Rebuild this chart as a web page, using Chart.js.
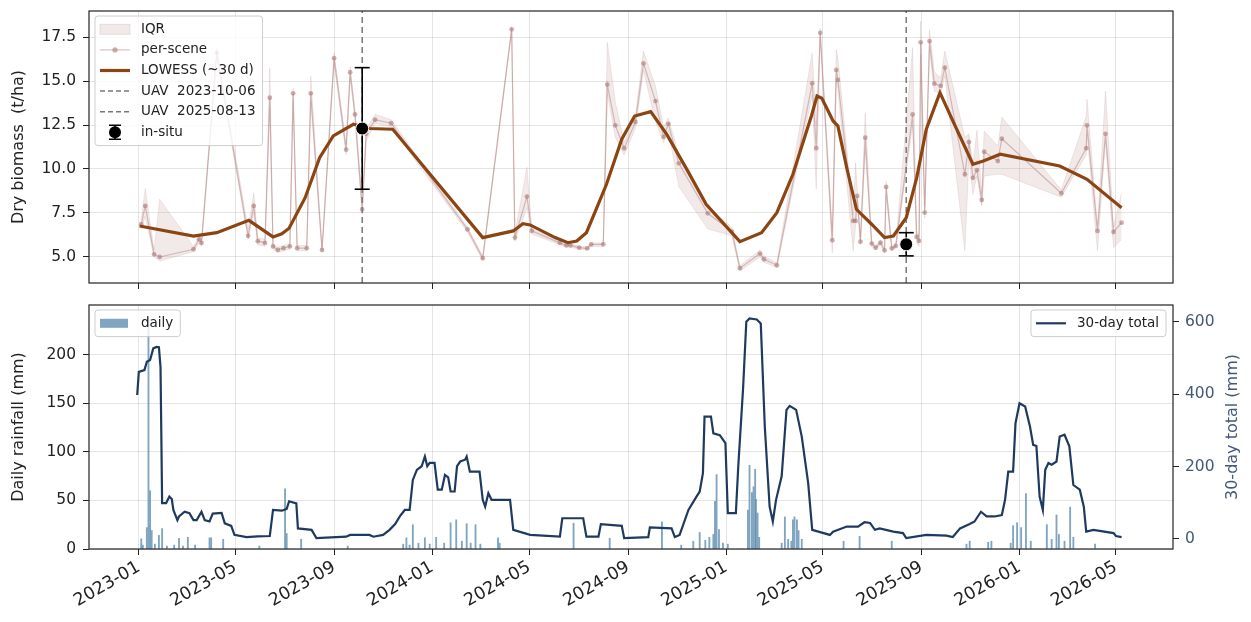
<!DOCTYPE html>
<html>
<head>
<meta charset="utf-8">
<title>Biomass and rainfall</title>
<script src="https://cdn.jsdelivr.net/npm/chart.js@4.4.1/dist/chart.umd.min.js"></script>
<style>
    html, body { margin: 0; padding: 0; background: #fff; }
    #wrap { position: relative; width: 1251px; height: 622px; }
    .panel { position: absolute; left: 0; width: 1251px; }
    #topPanel { top: 0; height: 295px; }
    #bottomPanel { top: 295px; height: 327px; }
</style>
</head>
<body>
<div id="wrap">
    <div class="panel" id="topPanel"><canvas id="biomassChart" width="1251" height="295"></canvas></div>
    <div class="panel" id="bottomPanel"><canvas id="rainChart" width="1251" height="327"></canvas></div>
</div>
<script>
// all days are counted from 2023-01-01
const tickLabels = ['2023-01', '2023-05', '2023-09', '2024-01', '2024-05', '2024-09',
    '2025-01', '2025-05', '2025-09', '2026-01', '2026-05'];
const uavDates = ['2023-10-06', '2025-08-13'];

// per-scene median biomass (t/ha) and its IQR
const sceneDays = [3, 8, 19, 26, 68, 75, 78, 97, 136, 143, 148, 157, 163, 167, 173, 180, 188, 192, 197, 209,
    214, 228, 243, 258, 263, 269, 278, 283, 294, 314, 409, 428, 464, 468, 483, 489, 524, 532, 537, 548,
    558, 563, 578, 583, 593, 604, 618, 628, 643, 653, 659, 672, 708, 738, 748, 773, 778, 794, 838, 843,
    848, 863, 868, 870, 889, 892, 894, 898, 904, 912, 917, 923, 928, 930, 937, 942, 963, 968, 971, 973,
    978, 984, 990, 998, 1003, 1028, 1033, 1038, 1043, 1049, 1052, 1069, 1074, 1148, 1179, 1180, 1193, 1203, 1213, 1223];
const sceneMedian = [6.86, 7.9, 5.15, 5.0, 5.44, 6.0, 5.8, 16.6, 6.2, 7.9, 5.9, 5.8, 14.05, 5.6, 5.4, 5.5, 5.6, 14.3, 5.5, 5.5,
    14.3, 5.4, 16.3, 11.1, 15.5, 13.1, 7.7, 12.0, 12.8, 12.6, 6.57, 4.93, 17.94, 6.1, 8.43, 6.48, 5.8, 5.66, 5.66, 5.53,
    5.49, 5.72, 5.72, 14.8, 12.48, 11.18, 12.67, 16.0, 13.86, 11.82, 12.57, 10.32, 7.48, 6.44, 4.36, 5.19, 4.87, 4.53, 14.87, 11.18,
    17.74, 5.95, 15.63, 15.06, 7.05, 7.05, 8.47, 5.87, 11.78, 5.76, 5.53, 5.81, 5.38, 8.98, 5.49, 5.63, 13.1, 6.14, 5.91, 17.2,
    7.52, 17.27, 14.85, 14.72, 15.76, 9.7, 11.53, 9.5, 9.93, 8.24, 10.98, 10.45, 11.72, 8.62, 11.18, 12.48, 6.48, 12.0, 6.42, 6.95];
const iqrLow = [6.6, 7.3, 5.0, 4.77, 5.3, 5.8, 5.6, 16.3, 6.0, 7.5, 5.7, 5.6, 13.5, 5.45, 5.25, 5.35, 5.45, 13.9, 5.35, 5.35,
    13.8, 5.25, 16.0, 10.8, 15.2, 12.8, 7.4, 11.6, 12.6, 12.4, 6.4, 4.8, 17.8, 5.9, 7.8, 6.3, 5.7, 5.55, 5.55, 5.45,
    5.4, 5.6, 5.6, 14.3, 11.8, 10.8, 12.3, 15.6, 12.7, 11.5, 12.2, 9.0, 6.6, 6.2, 4.2, 5.0, 4.7, 4.4, 14.2, 8.86,
    17.5, 5.24, 15.0, 14.5, 5.34, 6.8, 8.0, 5.7, 11.0, 5.6, 5.4, 5.7, 5.25, 8.5, 5.35, 5.5, 12.5, 5.8, 5.6, 16.5,
    7.2, 16.8, 14.4, 14.3, 15.3, 5.34, 10.6, 8.56, 9.6, 7.9, 9.6, 9.7, 9.7, 8.4, 10.8, 12.0, 5.34, 11.6, 5.53, 6.0];
const iqrHigh = [7.1, 8.9, 5.4, 8.28, 5.6, 6.2, 6.0, 16.9, 6.6, 8.65, 6.1, 6.0, 15.76, 5.75, 5.55, 5.65, 5.75, 14.6, 5.65, 5.65,
    15.3, 5.55, 16.6, 11.4, 15.8, 13.4, 8.2, 12.3, 13.1, 12.8, 6.7, 5.05, 18.1, 6.3, 10.1, 6.6, 5.9, 5.75, 5.75, 5.6,
    5.6, 5.8, 5.8, 17.2, 13.8, 11.5, 13.0, 16.7, 14.7, 12.4, 12.9, 10.8, 7.8, 6.7, 4.5, 5.4, 5.05, 4.65, 16.6, 12.5,
    18.0, 6.5, 16.8, 16.3, 7.4, 10.36, 8.8, 6.1, 13.2, 5.9, 5.65, 5.95, 5.5, 9.3, 5.6, 5.75, 16.9, 6.5, 6.2, 18.4,
    7.9, 17.9, 15.5, 15.2, 16.7, 11.8, 12.0, 10.2, 12.2, 8.6, 12.16, 11.3, 12.95, 8.8, 13.0, 13.96, 6.8, 14.43, 6.7, 8.65];

// LOWESS smooth (~30 d)
const lowessDays = [1, 68, 97, 137, 167, 178, 187, 207, 225, 242, 267, 287, 316, 428, 466, 478, 487, 518, 534, 545,
    557, 570, 582, 601, 617, 637, 657, 682, 706, 748, 775, 794, 814, 837, 844, 850, 864, 870, 881, 893,
    912, 928, 939, 955, 968, 980, 997, 1013, 1038, 1051, 1072, 1146, 1180, 1223];
const lowessValues = [6.76, 6.19, 6.38, 7.08, 6.14, 6.32, 6.63, 8.37, 10.64, 11.88, 12.54, 12.3, 12.26, 6.1, 6.48, 6.89, 6.82, 6.1, 5.81, 5.91,
    6.38, 7.8, 9.13, 11.69, 13.01, 13.26, 11.97, 9.98, 7.99, 5.87, 6.38, 7.52, 9.7, 13.01, 14.15, 14.02, 12.73, 12.44, 10.07, 7.71,
    6.86, 6.1, 6.19, 7.23, 9.5, 12.26, 14.34, 12.73, 10.27, 10.45, 10.84, 10.17, 9.41, 7.8];

// in-situ biomass with error bars
const insituDates = ['2023-10-06', '2025-08-13'];
const insituMean = [12.3, 5.72];
const insituLow = [8.85, 5.06];
const insituHigh = [15.76, 6.38];

// daily rainfall (mm), only the wet days
const rainDays = [3, 5, 10, 12, 14, 16, 20, 25, 29, 35, 44, 50, 55, 61, 70, 88, 90, 105, 150, 182,
    184, 202, 260, 329, 333, 337, 341, 348, 356, 362, 370, 380, 388, 395, 402, 408, 413, 419, 425, 447,
    449, 541, 586, 651, 675, 690, 698, 705, 710, 715, 717, 719, 722, 727, 733, 758, 760, 763, 765, 767,
    768, 770, 772, 800, 804, 808, 812, 814, 816, 819, 821, 825, 877, 897, 937, 1030, 1034, 1057, 1061, 1085,
    1088, 1093, 1098, 1104, 1110, 1130, 1136, 1142, 1145, 1152, 1159, 1163, 1190];
const rainDaily = [10.5, 4, 22, 238, 60, 19, 5, 14, 21, 3, 4, 11, 3, 12, 4, 11.5, 11.5, 10, 3, 62,
    16, 10, 3, 5, 11.5, 4, 25, 6, 11.5, 5, 12, 6, 27, 30, 8, 26, 6, 25, 5, 11.5,
    6, 26.5, 11, 28, 4, 8, 17, 9, 12, 15, 49, 76.5, 20, 6, 5, 40, 86, 58, 64, 82,
    51, 37, 12, 6, 33, 10, 8, 30, 33, 30, 19, 10, 8, 13, 8, 5, 8, 7, 8, 6,
    24, 27, 22, 57, 8, 25, 10, 35, 15, 8, 43, 12, 5];

// 30-day rolling total (mm)
const totalDays = [-2, 0, 7, 10, 14, 18, 22, 25, 27, 29, 34, 38, 41, 43, 48, 50, 57, 63, 68, 72,
    78, 82, 88, 92, 103, 107, 115, 119, 134, 148, 163, 167, 178, 184, 187, 196, 198, 215, 221, 258,
    263, 287, 292, 304, 312, 319, 325, 331, 337, 341, 346, 352, 356, 359, 362, 368, 372, 377, 381, 385,
    388, 393, 396, 400, 406, 408, 412, 424, 428, 431, 435, 439, 462, 466, 487, 524, 527, 553, 557, 572,
    575, 601, 604, 634, 636, 663, 667, 673, 684, 694, 698, 702, 704, 712, 715, 723, 730, 733, 743, 746,
    752, 756, 760, 769, 774, 779, 785, 789, 793, 800, 806, 810, 818, 825, 833, 838, 860, 864, 881, 895,
    903, 910, 916, 922, 939, 951, 955, 980, 1005, 1013, 1022, 1034, 1040, 1048, 1055, 1065, 1074, 1078, 1082, 1088,
    1091, 1096, 1103, 1109, 1113, 1117, 1121, 1125, 1128, 1132, 1136, 1142, 1146, 1152, 1158, 1163, 1171, 1176, 1179, 1188,
    1213, 1216, 1223];
const total30 = [398, 462, 467, 490, 495, 527, 531, 530, 476, 99, 99, 117, 110, 80, 52, 62, 75, 71, 52, 52,
    75, 52, 48, 70, 72, 43, 36, 11, 5, 7, 8, 80, 78, 83, 104, 98, 29, 25, 2, 6,
    11, 11, 6, 11, 25, 41, 63, 80, 80, 163, 191, 201, 228, 201, 210, 210, 136, 136, 177, 170,
    131, 131, 201, 214, 219, 228, 186, 186, 108, 89, 126, 108, 108, 25, 11, 6, 57, 57, 6, 6,
    41, 36, 2, 5, 32, 29, 5, 11, 80, 117, 131, 182, 338, 338, 292, 287, 265, 71, 71, 201,
    417, 601, 610, 607, 596, 311, 89, 48, 108, 173, 357, 368, 357, 283, 154, 25, 11, 20, 34, 34,
    46, 44, 25, 29, 20, 16, 2, 11, 9, 5, 29, 41, 48, 75, 62, 62, 66, 108, 186, 186,
    320, 375, 366, 311, 260, 257, 117, 80, 191, 210, 205, 214, 283, 288, 256, 149, 136, 89, 20, 25,
    16, 8, 5];

const BASE = Date.UTC(2023, 0, 1);
function dayOf(iso) {
    const p = iso.split('-').map(Number);
    return Math.round((Date.UTC(p[0], p[1] - 1, p[2] || 1) - BASE) / 864e5);
}

function pairs(xs, ys) {
    return xs.map((x, i) => ({ x: x, y: ys[i] }));
}

const FONT = 'DejaVu Sans';
const tickFont = { family: FONT, size: 15.5 };
const dateFont = { family: FONT, size: 17.5 };
const gridColor = 'rgba(0, 0, 0, 0.1)';
const sceneLine = 'rgba(170, 120, 115, 0.45)';
const sceneDot = 'rgba(170, 120, 118, 0.6)';
const bandFill = 'rgba(188, 143, 143, 0.2)';
const bandEdge = 'rgba(188, 143, 143, 0.25)';
const lowessColor = '#8b4513';
const uavColor = '#777777';
const rainBar = 'rgba(96, 143, 176, 0.8)';
const totalColor = '#1f3a5f';
const rightAxisColor = '#44597a';

const BIO_MIN = 3.52, BIO_MAX = 18.98;

function timeAxis(showLabels) {
    return {
        type: 'linear',
        min: -62,
        max: 1287,
        offset: false,
        afterBuildTicks: axis => { axis.ticks = tickLabels.map(t => ({ value: dayOf(t) })); },
        afterFit: axis => {
            axis.height = showLabels ? 73 : 12;
            axis.paddingLeft = 0;
            axis.paddingRight = 0;
        },
        ticks: {
            display: showLabels,
            autoSkip: false,
            maxRotation: 30,
            minRotation: 30,
            padding: 2,
            color: '#222',
            font: dateFont,
            callback: (v, i) => tickLabels[i]
        },
        grid: { color: gridColor, offset: false, drawTicks: true, tickLength: 6, tickColor: '#222' },
        border: { display: false }
    };
}

function fitY(width) {
    return axis => {
        axis.width = width;
        axis.paddingTop = 0;
        axis.paddingBottom = 0;
    };
}

function drawIcon(ctx, it, x0, x1, cy) {
    const xm = (x0 + x1) / 2;
    ctx.save();
    if (it.icon === 'band') {
        ctx.fillStyle = it.fill;
        ctx.strokeStyle = it.color;
        ctx.fillRect(x0, cy - 5, x1 - x0, 10);
        ctx.strokeRect(x0, cy - 5, x1 - x0, 10);
    } else if (it.icon === 'bar') {
        ctx.fillStyle = it.color;
        ctx.fillRect(x0, cy - 4.5, x1 - x0 - 2, 9);
    } else if (it.icon === 'errDot') {
        ctx.strokeStyle = '#000';
        ctx.lineWidth = 1.5;
        ctx.beginPath();
        ctx.moveTo(xm, cy - 7); ctx.lineTo(xm, cy + 7);
        ctx.moveTo(xm - 6, cy - 7); ctx.lineTo(xm + 6, cy - 7);
        ctx.moveTo(xm - 6, cy + 7); ctx.lineTo(xm + 6, cy + 7);
        ctx.stroke();
        ctx.beginPath();
        ctx.arc(xm, cy, 6, 0, Math.PI * 2);
        ctx.fillStyle = '#000';
        ctx.fill();
    } else {
        ctx.strokeStyle = it.color;
        ctx.lineWidth = it.width || 1.5;
        if (it.dash) ctx.setLineDash(it.dash);
        ctx.beginPath();
        ctx.moveTo(x0, cy);
        ctx.lineTo(x1, cy);
        ctx.stroke();
        if (it.icon === 'lineDot') {
            ctx.beginPath();
            ctx.arc(xm, cy, 2.6, 0, Math.PI * 2);
            ctx.fillStyle = it.dot;
            ctx.fill();
        }
    }
    ctx.restore();
}

function drawLegendBox(ctx, area, box) {
    ctx.save();
    ctx.font = '13.5px "' + FONT + '"';
    const textW = Math.max(...box.items.map(it => ctx.measureText(it.label).width));
    const w = 46 + textW + 7;
    const h = box.items.length * box.rowHeight + 6;
    const x = box.side === 'right' ? area.right - 7 - w : area.left + 6;
    const y = area.top + 5;
    ctx.beginPath();
    if (ctx.roundRect) ctx.roundRect(x, y, w, h, 3); else ctx.rect(x, y, w, h);
    ctx.fillStyle = 'rgba(255, 255, 255, 0.8)';
    ctx.fill();
    ctx.strokeStyle = 'rgba(200, 200, 200, 0.9)';
    ctx.lineWidth = 1;
    ctx.stroke();
    box.items.forEach((it, i) => {
        const cy = y + 3 + box.rowHeight * (i + 0.5);
        drawIcon(ctx, it, x + 5, x + 35, cy);
        ctx.fillStyle = '#222';
        ctx.textBaseline = 'middle';
        ctx.textAlign = 'left';
        ctx.fillText(it.label, x + 46, cy);
    });
    ctx.restore();
}

const panelDecor = {
    id: 'panelDecor',
    afterDatasetsDraw(chart, args, opts) {
        const ctx = chart.ctx;
        const a = chart.chartArea;
        ctx.save();
        ctx.strokeStyle = '#222';
        ctx.lineWidth = 1.2;
        ctx.strokeRect(a.left, a.top, a.right - a.left, a.bottom - a.top);
        ctx.restore();
        (opts.boxes || []).forEach(box => drawLegendBox(ctx, a, box));
        // right axis title, reading upwards like matplotlib
        if (opts.rightTitle) {
            ctx.save();
            ctx.translate(chart.width - 18, (a.top + a.bottom) / 2);
            ctx.rotate(-Math.PI / 2);
            ctx.font = '16px "' + FONT + '"';
            ctx.fillStyle = opts.rightTitle.color;
            ctx.textAlign = 'center';
            ctx.textBaseline = 'middle';
            ctx.fillText(opts.rightTitle.text, 0, 0);
            ctx.restore();
        }
    }
};

function renderBiomass() {
    const insituX = insituDates.map(dayOf);
    const errData = insituX.flatMap((d, i) => [
        { x: d, y: insituLow[i] }, { x: d, y: insituHigh[i] }, { x: d, y: null }
    ]);
    const uavData = uavDates.flatMap(d => [
        { x: dayOf(d), y: BIO_MIN }, { x: dayOf(d), y: BIO_MAX }, { x: dayOf(d), y: null }
    ]);

    new Chart(document.getElementById('biomassChart').getContext('2d'), {
        type: 'line',
        data: {
            datasets: [
                { label: 'IQR', data: pairs(sceneDays, iqrHigh), fill: '+1', backgroundColor: bandFill,
                  borderColor: bandEdge, borderWidth: 0.8, pointRadius: 0, order: 6 },
                { label: 'IQR low', data: pairs(sceneDays, iqrLow), fill: false,
                  borderColor: bandEdge, borderWidth: 0.8, pointRadius: 0, order: 6 },
                { label: 'per-scene', data: pairs(sceneDays, sceneMedian), borderColor: sceneLine, borderWidth: 1.2,
                  pointRadius: 2.4, pointBorderWidth: 0, pointBackgroundColor: sceneDot, order: 5 },
                { label: 'UAV', data: uavData, borderColor: uavColor, borderWidth: 1.5, borderDash: [6, 4],
                  pointRadius: 0, order: 4 },
                { label: 'LOWESS (~30 d)', data: pairs(lowessDays, lowessValues), borderColor: lowessColor,
                  borderWidth: 3.2, pointRadius: 0, order: 3 },
                { label: 'in-situ err', data: errData, borderColor: '#000', borderWidth: 1.6, pointStyle: 'line',
                  pointRadius: 7.5, pointBorderWidth: 1.6, pointBorderColor: '#000', order: 2 },
                { label: 'in-situ', data: pairs(insituX, insituMean), showLine: false, pointRadius: 6.5,
                  pointBackgroundColor: '#000', pointBorderColor: '#fff', pointBorderWidth: 1, order: 1 }
            ]
        },
        options: {
            responsive: false,
            animation: false,
            events: [],
            layout: { padding: { top: 11, right: 78, bottom: 0, left: 0 } },
            scales: {
                x: timeAxis(false),
                y: {
                    min: BIO_MIN,
                    max: BIO_MAX,
                    afterBuildTicks: axis => { axis.ticks = [5, 7.5, 10, 12.5, 15, 17.5].map(v => ({ value: v })); },
                    afterFit: fitY(89),
                    ticks: { color: '#222', font: tickFont, padding: 7, callback: v => v.toFixed(1) },
                    grid: { color: gridColor, tickLength: 6, tickColor: '#222' },
                    border: { display: false },
                    title: { display: true, text: 'Dry biomass  (t/ha)', color: '#222',
                             font: { family: FONT, size: 16 }, padding: { top: 9, bottom: 0 } }
                }
            },
            plugins: {
                legend: { display: false },
                tooltip: { enabled: false },
                panelDecor: {
                    boxes: [{
                        side: 'left',
                        rowHeight: 20.6,
                        items: [
                            { label: 'IQR', icon: 'band', fill: bandFill, color: bandEdge },
                            { label: 'per-scene', icon: 'lineDot', color: sceneLine, dot: sceneDot, width: 1.2 },
                            { label: 'LOWESS (~30 d)', icon: 'line', color: lowessColor, width: 3.2 },
                            { label: 'UAV  ' + uavDates[0], icon: 'line', color: uavColor, width: 1.5, dash: [5, 3] },
                            { label: 'UAV  ' + uavDates[1], icon: 'line', color: uavColor, width: 1.5, dash: [5, 3] },
                            { label: 'in-situ', icon: 'errDot' }
                        ]
                    }]
                }
            }
        },
        plugins: [panelDecor]
    });
}

function renderRain() {
    new Chart(document.getElementById('rainChart').getContext('2d'), {
        type: 'bar',
        data: {
            datasets: [
                { type: 'line', label: '30-day total', data: pairs(totalDays, total30), yAxisID: 'y1',
                  borderColor: totalColor, borderWidth: 2.2, pointRadius: 0, order: 1 },
                { type: 'bar', label: 'daily', data: pairs(rainDays, rainDaily), yAxisID: 'y',
                  backgroundColor: rainBar, barThickness: 1.2, order: 2 }
            ]
        },
        options: {
            responsive: false,
            animation: false,
            events: [],
            layout: { padding: { top: 10, right: 0, bottom: 0, left: 0 } },
            scales: {
                x: timeAxis(true),
                y: {
                    position: 'left',
                    min: 0,
                    max: 251,
                    afterBuildTicks: axis => { axis.ticks = [0, 50, 100, 150, 200].map(v => ({ value: v })); },
                    afterFit: fitY(89),
                    ticks: { color: '#222', font: tickFont, padding: 7 },
                    grid: { color: gridColor, tickLength: 6, tickColor: '#222' },
                    border: { display: false },
                    title: { display: true, text: 'Daily rainfall (mm)', color: '#222',
                             font: { family: FONT, size: 16 }, padding: { top: 9, bottom: 0 } }
                },
                y1: {
                    position: 'right',
                    min: -28,
                    max: 647,
                    afterBuildTicks: axis => { axis.ticks = [0, 200, 400, 600].map(v => ({ value: v })); },
                    afterFit: fitY(78),
                    ticks: { color: rightAxisColor, font: tickFont, padding: 6 },
                    grid: { drawOnChartArea: false, tickLength: 6, tickColor: '#222' },
                    border: { display: false },
                    title: { display: false }
                }
            },
            plugins: {
                legend: { display: false },
                tooltip: { enabled: false },
                panelDecor: {
                    rightTitle: { text: '30-day total (mm)', color: rightAxisColor },
                    boxes: [
                        { side: 'left', rowHeight: 20.6, items: [{ label: 'daily', icon: 'bar', color: rainBar }] },
                        { side: 'right', rowHeight: 20.6, items: [{ label: '30-day total', icon: 'line', color: totalColor, width: 2.2 }] }
                    ]
                }
            }
        },
        plugins: [panelDecor]
    });
}

renderBiomass();
renderRain();
</script>
</body>
</html>
